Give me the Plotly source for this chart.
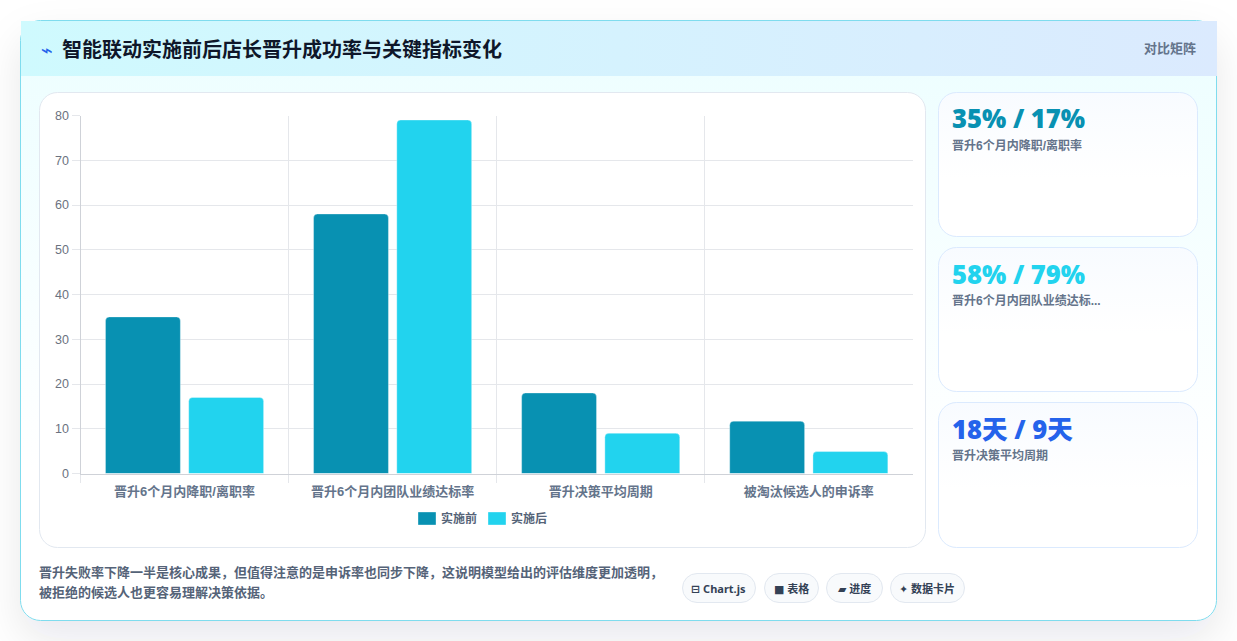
import base64
import plotly.graph_objects as go

WIDTH, HEIGHT = 1237, 641

# Chart data
categories = ["晋升6个月内降职/离职率", "晋升6个月内团队业绩达标率", "晋升决策平均周期", "被淘汰候选人的申诉率"]
before_values = [35, 58, 18, 11.7]
after_values = [17, 79, 9, 4.9]
series_names = ["实施前", "实施后"]
series_colors = ["#0891b2", "#22d3ee"]
y_ticks = [0, 10, 20, 30, 40, 50, 60, 70, 80]

# Page text
title_text = "智能联动实施前后店长晋升成功率与关键指标变化"
badge_text = "对比矩阵"
note_lines = [
    "晋升失败率下降一半是核心成果，但值得注意的是申诉率也同步下降，这说明模型给出的评估维度更加透明，",
    "被拒绝的候选人也更容易理解决策依据。",
]
stat_captions = ["晋升6个月内降职/离职率", "晋升6个月内团队业绩达标...", "晋升决策平均周期"]
stat_units = ["%", "%", "天"]
stat_colors = ["#0891b2", "#22d3ee", "#2563eb"]
chip_labels = ["⊟ Chart.js", "■ 表格", "▰ 进度", "✦ 数据卡片"]
chip_spans = [(682, 755), (764, 818), (826, 882), (890, 964)]
card_spans = [(92, 236), (247, 391), (402, 547)]

CJK = "Liberation Sans, Noto Sans CJK SC, sans-serif"
STAT = "Open Sans, Noto Sans CJK SC, sans-serif"
CHIP = "Noto Sans, DejaVu Sans, Noto Sans CJK SC, sans-serif"


def fx(px):
    return px / WIDTH


def fy(px):
    return 1 - px / HEIGHT


def label(px, py, text, size, color, family=CJK, weight=700, anchor="left"):
    return dict(
        x=fx(px), y=fy(py), xref="paper", yref="paper", text=text, showarrow=False,
        xanchor=anchor, yanchor="middle", align="left",
        font=dict(family=family, size=size, color=color, weight=weight),
        borderpad=0, borderwidth=0,
    )


# Page furniture: shadowed panel, gradients, stat cards and chips
cards_svg = "".join(
    f'<rect x="938.5" y="{top + .5}" width="259" height="{bottom - top}" rx="18" '
    'fill="url(#card)" stroke="#dbeafe"/>'
    for top, bottom in card_spans
)
chips_svg = "".join(
    f'<rect x="{left + .5}" y="573.5" width="{right - left}" height="29" rx="14.5" '
    'fill="#f8fafc" stroke="#e2e8f0"/>'
    for left, right in chip_spans
)
background_svg = f"""<svg xmlns="http://www.w3.org/2000/svg" width="{WIDTH}" height="{HEIGHT}" viewBox="0 0 {WIDTH} {HEIGHT}">
<defs>
<linearGradient id="body" x1="0" y1="0" x2="0" y2="1"><stop offset="0" stop-color="#ecfeff"/><stop offset=".75" stop-color="#ffffff"/></linearGradient>
<linearGradient id="head" x1="0" y1="0" x2="1" y2="0"><stop offset="0" stop-color="#cffafe"/><stop offset="1" stop-color="#dbeafe"/></linearGradient>
<linearGradient id="card" x1="0" y1="0" x2="0" y2="1"><stop offset="0" stop-color="#f8fbff"/><stop offset=".6" stop-color="#ffffff"/></linearGradient>
<filter id="soft" x="-10%" y="-15%" width="120%" height="140%"><feDropShadow dx="0" dy="18" stdDeviation="20" flood-color="#0f172a" flood-opacity="0.09"/></filter>
</defs>
<rect width="{WIDTH}" height="{HEIGHT}" fill="#ffffff"/>
<rect x="20.5" y="20.5" width="1196" height="600" rx="20" fill="url(#body)" stroke="#7fdcee" filter="url(#soft)"/>
<rect x="21" y="21" width="1196" height="55" fill="url(#head)"/>
<rect x="39.5" y="92.5" width="886" height="455" rx="18" fill="#ffffff" stroke="#e2e8f0"/>
{cards_svg}{chips_svg}
</svg>"""
background_uri = "data:image/svg+xml;base64," + base64.b64encode(background_svg.encode()).decode()

fig = go.Figure()
for name, color, values in zip(series_names, series_colors, [before_values, after_values]):
    fig.add_bar(
        name=name, x=categories, y=values,
        marker=dict(color=color, line=dict(color="rgba(255,255,255,0.35)", width=1)),
    )

annotations = [
    label(41, 50, "⌁", 20, "#2563eb", family="DejaVu Sans", weight=400),
    label(62, 49.5, title_text, 20, "#0f172a"),
    label(1196, 48.5, badge_text, 13, "#64748b", anchor="right"),
    label(39, 572, note_lines[0], 13, "#556378"),
    label(39, 592, note_lines[1], 13, "#556378"),
]

for i, caption in enumerate(stat_captions):
    top = card_spans[i][0]
    unit = stat_units[i]
    stat = f"{before_values[i]}{unit} / {after_values[i]}{unit}"
    annotations.append(label(952, top + 27, stat, 25.6, stat_colors[i], family=STAT, weight=800))
    annotations.append(label(952, top + 53.5, caption, 12, "#64748b"))

for (left, right), text in zip(chip_spans, chip_labels):
    annotations.append(label((left + right) / 2, 588, text, 11, "#334155", family=CHIP, anchor="center"))

# Legend drawn as swatches with captions under the plot
legend_swatches = [(418, 436), (488, 506)]
legend_text_x = [441, 511]
shapes = []
for (x0, x1), tx, name, color in zip(legend_swatches, legend_text_x, series_names, series_colors):
    shapes.append(dict(
        type="rect", xref="paper", yref="paper", x0=fx(x0), x1=fx(x1), y0=fy(525), y1=fy(512),
        fillcolor=color, line=dict(color="rgba(255,255,255,0.35)", width=1),
    ))
    annotations.append(label(tx, 518, name, 12, "#556378"))

fig.update_layout(
    width=WIDTH, height=HEIGHT,
    margin=dict(l=0, r=0, t=0, b=0),
    autosize=False,
    paper_bgcolor="#ffffff",
    plot_bgcolor="rgba(0,0,0,0)",
    barmode="group", bargap=0.2, bargroupgap=0.1, barcornerradius=4,
    showlegend=False,
    images=[dict(
        source=background_uri, xref="paper", yref="paper", x=0, y=1,
        sizex=1, sizey=1, xanchor="left", yanchor="top", sizing="stretch", layer="below",
    )],
    shapes=shapes,
    annotations=annotations,
    xaxis=dict(
        domain=[fx(80.5), fx(912.6)], type="category", range=[-0.5, 3.499], automargin=False,
        tickson="boundaries", ticks="outside", ticklen=8, tickcolor="#e5e7eb", ticklabelstandoff=6,
        showgrid=True, gridcolor="#e5e7eb", gridwidth=1,
        showline=True, linecolor="#cfd2d8", zeroline=False,
        tickfont=dict(family=CJK, size=13, color="#64748b", weight=700),
    ),
    yaxis=dict(
        domain=[fy(473.5), fy(115.5)], range=[0, 80], tickvals=y_ticks, automargin=False,
        ticks="outside", ticklen=8, tickcolor="#e5e7eb",
        showgrid=True, gridcolor="#e5e7eb", gridwidth=1,
        showline=True, linecolor="#cfd2d8", zeroline=False,
        tickfont=dict(family="Liberation Sans, sans-serif", size=12.5, color="#6b7280"),
    ),
)

fig.write_html("out.html", config={"displayModeBar": False})
